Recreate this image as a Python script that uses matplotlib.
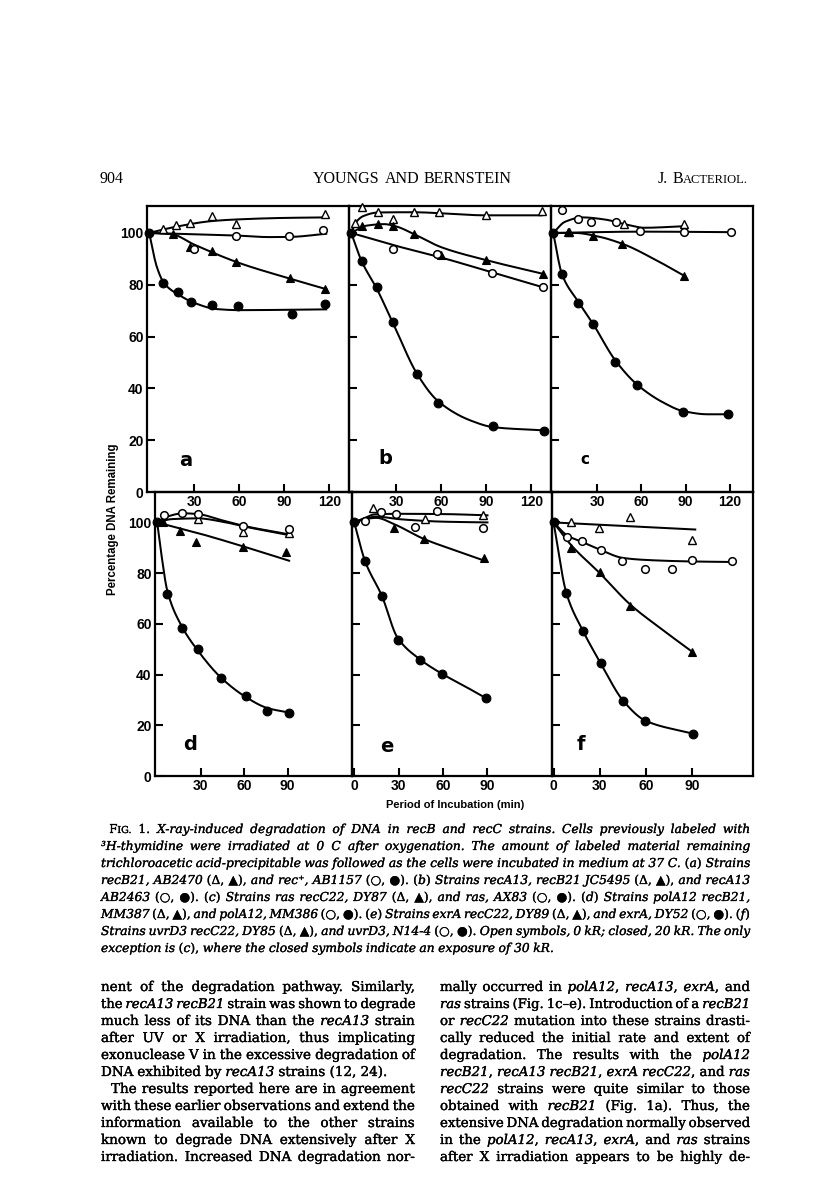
import numpy as np
import matplotlib.pyplot as plt
import matplotlib.patheffects as pe

# ---- data: (minutes, percent remaining) ----
# panel a
a_ot = ([9, 18, 27, 42, 58, 117], [101.6, 103.2, 103.9, 106.7, 103.4, 107.4])
a_ot_fit = ([0, 17, 42, 58, 90, 118], [100, 102.3, 104.6, 105.2, 105.8, 106])
a_ct = ([16, 27, 42, 58, 94, 117], [99.6, 94.4, 93.1, 88.6, 82.5, 78.5])
a_ct_fit = ([0, 15, 30, 60, 90, 118], [100, 99.5, 95.5, 88.4, 83, 78.3])
a_oc = ([30, 58, 93, 116], [93.8, 99, 98.9, 101.3])
a_oc_fit = ([0, 30, 58, 80, 95, 118], [100, 99.5, 99, 98.4, 98.5, 99.7])
a_cc = ([0, 9, 19, 28, 42, 59, 95, 117], [100, 80.5, 77.2, 73.5, 72.1, 71.8, 68.7, 72.7])
a_cc_fit = ([0, 5, 10, 20, 30, 45, 60, 118], [100, 87, 80.5, 76, 73, 70.6, 70.2, 70.5])

# panel b
b_ot = ([2.4, 7, 17.6, 27.6, 41.8, 58.7, 90, 127], [104, 110, 108.1, 105.5, 107.9, 107.9, 107.1, 108.5])
b_ot_fit = ([0, 3, 8, 18, 40, 90, 127], [100, 104, 106.5, 107.9, 108, 106.8, 106.8])
b_ct = ([7, 17.6, 27.6, 41.8, 60, 90, 127.6], [102.6, 103.4, 102.6, 99.4, 91.3, 89.4, 84.2])
b_ct_fit = ([0, 10, 22, 30, 42, 60, 90, 128], [100, 102.8, 103.4, 102.5, 99.5, 94.5, 89.5, 84.2])
b_oc = ([27.6, 57, 94, 127.6], [93.9, 92, 84.5, 79])
b_oc_fit = ([0, 30, 60, 95, 128], [100, 95, 90.5, 84.6, 79])
b_cc = ([0, 7, 17, 27.6, 43.6, 58, 94.7, 128.4], [100, 89, 79, 65.7, 45.4, 34.4, 25.4, 23.7])
b_cc_fit = ([0, 7, 17, 28, 44, 58, 80, 95, 128], [100, 89, 78.5, 65, 45.5, 35, 27.5, 25, 23.8])

# panel c
c_ot = ([11, 48, 89], [100.3, 103.3, 103.4])
c_ot_fit = ([0, 8, 20, 35, 50, 62, 89], [100, 104.3, 106, 105.2, 103.2, 102, 102.6])
c_ct = ([10, 27, 47, 89], [100.3, 99, 95.7, 83.4])
c_ct_fit = ([0, 15, 30, 48, 70, 89], [100, 100, 98.7, 95.6, 89.5, 83.5])
c_oc = ([6.3, 17, 26, 42.4, 59, 89, 121], [108.7, 105.4, 104.4, 104.4, 100.9, 100.5, 100.3])
c_oc_fit = ([0, 60, 121], [100, 100.5, 100.3])
c_cc = ([0, 6, 17, 27, 42, 57, 88, 119], [100, 84.1, 73.1, 65, 50.2, 41.4, 31, 30])
c_cc_fit = ([0, 6, 17, 27, 42, 57, 75, 88, 105, 119], [100, 84, 73.5, 65, 51, 41.5, 34.5, 31.3, 30, 30])

# panel d
d_ot = ([28, 59, 91], [101.3, 96.2, 95.8])
d_ot_fit = ([0, 10, 28, 45, 60, 91], [100, 101.3, 101.6, 100.3, 98.4, 95])
d_ct = ([4, 16, 27, 59, 89], [100, 96.7, 92.1, 90.5, 88.3])
d_ct_fit = ([0, 30, 59, 91], [100, 95.5, 90.6, 84.9])
d_oc = ([5, 17, 28, 59, 91], [103, 103.7, 103.3, 98.4, 97.5])
d_oc_fit = ([0, 8, 18, 28, 45, 60, 91], [100, 102.5, 103.6, 103.3, 100.8, 98.6, 95.3])
d_cc = ([0, 7, 17, 28, 44, 61, 76, 91], [100, 71.7, 58.3, 50.1, 38.7, 31.5, 25.7, 25])
d_cc_fit = ([0, 3, 7, 17, 28, 44, 61, 76, 91], [100, 87, 73, 59, 49.5, 38.8, 31.2, 26.8, 25])

# panel e
e_ot = ([13, 48, 87], [105.7, 101.3, 102.9])
e_ot_fit = ([0, 8, 15, 30, 60, 90], [100, 101.6, 102.3, 101.3, 100.3, 100])
e_ct = ([27, 47, 88], [98, 93.5, 85.8])
e_ct_fit = ([0, 8, 15, 27, 47, 70, 88], [100, 101.4, 101.8, 99.3, 93.5, 88.6, 84.9])
e_oc = ([7, 18, 28, 41, 56, 87], [100.7, 104.2, 103.5, 98.3, 104.6, 97.8])
e_oc_fit = ([0, 6, 14, 30, 60, 90], [100, 101.5, 103.2, 103.4, 103.3, 102.8])
e_cc = ([0, 7.4, 18.7, 29.3, 44.4, 59.3, 89], [100, 84.6, 71.1, 53.7, 45.9, 40.3, 30.7])
e_cc_fit = ([0, 7.4, 18.7, 29.3, 44.4, 59.3, 75, 89], [100, 84.6, 71, 54.5, 46, 40.3, 35.3, 30.7])

# panel f
f_ot = ([11.5, 29.4, 49.5, 89.6], [100, 98, 102.3, 93.1])
f_ot_fit = ([0, 92], [100, 97.2])
f_ct = ([11.5, 30, 49.5, 90], [90, 80.5, 67.2, 49])
f_ct_fit = ([0, 11.5, 30, 50, 70, 90], [100, 91, 80, 67.5, 58, 49])
f_oc = ([8.9, 18.6, 30.5, 44.6, 59.7, 77.1, 90, 116], [94.4, 92.5, 89.2, 84.7, 81.8, 81.5, 85, 84.6])
f_oc_fit = ([0, 9, 19, 30, 45, 60, 90, 116], [100, 94.8, 92.2, 89.3, 86, 85.2, 84.6, 84.4])
f_cc = ([0, 8.4, 19.3, 30.5, 45.2, 59.7, 90.4], [100, 72, 57, 44.6, 29.7, 21.6, 16.7])
f_cc_fit = ([0, 8.4, 19.3, 30.5, 45.2, 59.7, 90.4], [100, 72, 57, 44.6, 29.7, 21.8, 16.7])

y_ticks = [0, 20, 40, 60, 80, 100]
top_xticks = [30, 60, 90, 120]
d_xticks = [30, 60, 90]
ef_xticks = [0, 30, 60, 90]

header_left = "904"
header_mid = "YOUNGS AND BERNSTEIN"
header_right = "J. B~ACTERIOL.~"

# caption: default italic, '*' toggles roman, '~' toggles small caps
caption = [
    "*F~IG.~ 1.* X-ray-induced degradation of DNA in recB and recC strains. Cells previously labeled with",
    "³H-thymidine were irradiated at 0 C after oxygenation. The amount of labeled material remaining",
    "trichloroacetic acid-precipitable was followed as the cells were incubated in medium at 37 C. *(*a*)* Strains",
    "recB21, AB2470 *(Δ, ▲),* and rec⁺, AB1157 *(○, ●).* *(*b*)* Strains recA13, recB21 JC5495 *(Δ, ▲),* and recA13",
    "AB2463 *(○, ●).* *(*c*)* Strains ras recC22, DY87 *(Δ, ▲),* and ras, AX83 *(○, ●).* *(*d*)* Strains polA12 recB21,",
    "MM387 *(Δ, ▲),* and polA12, MM386 *(○, ●).* *(*e*)* Strains exrA recC22, DY89 *(Δ, ▲),* and exrA, DY52 *(○, ●).* *(*f*)*",
    "Strains uvrD3 recC22, DY85 *(Δ, ▲),* and uvrD3, N14-4 *(○, ●).* Open symbols, 0 kR; closed, 20 kR. The only",
    "exception is *(*c*),* where the closed symbols indicate an exposure of 30 kR.",
]

# body text: default roman, '*' toggles italic
left_col = [
    "nent of the degradation pathway. Similarly,",
    "the *recA13 recB21* strain was shown to degrade",
    "much less of its DNA than the *recA13* strain",
    "after UV or X irradiation, thus implicating",
    "exonuclease V in the excessive degradation of",
    "DNA exhibited by *recA13* strains (12, 24).",
    "The results reported here are in agreement",
    "with these earlier observations and extend the",
    "information available to the other strains",
    "known to degrade DNA extensively after X",
    "irradiation. Increased DNA degradation nor-",
]
right_col = [
    "mally occurred in *polA12*, *recA13*, *exrA*, and",
    "*ras* strains (Fig. 1c–e). Introduction of a *recB21*",
    "or *recC22* mutation into these strains drasti-",
    "cally reduced the initial rate and extent of",
    "degradation. The results with the *polA12*",
    "*recB21*, *recA13 recB21*, *exrA recC22*, and *ras*",
    "*recC22* strains were quite similar to those",
    "obtained with *recB21* (Fig. 1a). Thus, the",
    "extensive DNA degradation normally observed",
    "in the *polA12*, *recA13*, *exrA*, and *ras* strains",
    "after X irradiation appears to be highly de-",
]

W, H = 816, 1183
fig = plt.figure(figsize=(W / 100, H / 100), dpi=100)
fig.patch.set_facecolor('white')
R = fig.canvas.get_renderer()

SERIF = ['DejaVu Serif', 'DejaVu Sans']
HEAD = ['Liberation Serif', 'DejaVu Serif']
SANS = ['Liberation Sans', 'DejaVu Sans']


def fx(x):
    return x / W


def fy(y):
    return 1 - y / H


def pchip(x, y, n=200):
    x = np.asarray(x, float)
    y = np.asarray(y, float)
    h = np.diff(x)
    d = np.diff(y) / h
    m = np.zeros_like(y)
    m[0], m[-1] = d[0], d[-1]
    for k in range(1, len(x) - 1):
        if d[k - 1] * d[k] > 0:
            w1 = 2 * h[k] + h[k - 1]
            w2 = h[k] + 2 * h[k - 1]
            m[k] = (w1 + w2) / (w1 / d[k - 1] + w2 / d[k])
    xs = np.linspace(x[0], x[-1], n)
    i = np.clip(np.searchsorted(x, xs) - 1, 0, len(h) - 1)
    s = (xs - x[i]) / h[i]
    ys = ((2 * s**3 - 3 * s**2 + 1) * y[i] + (s**3 - 2 * s**2 + s) * h[i] * m[i]
          + (-2 * s**3 + 3 * s**2) * y[i + 1] + (s**3 - s**2) * h[i] * m[i + 1])
    return xs, ys


def parse(line, it0):
    words, it, sc = [], it0, False
    for raw in line.split(' '):
        segs, buf = [], ''
        for ch in raw:
            if ch in '*~':
                if buf:
                    segs.append((buf, it, sc))
                    buf = ''
                if ch == '*':
                    it = not it
                else:
                    sc = not sc
            else:
                buf += ch
        if buf:
            segs.append((buf, it, sc))
        if segs:
            words.append(segs)
    return words


def seg_w(s, size, it, sc, family):
    t = fig.text(0, 0, s, fontsize=size * (0.78 if sc else 1),
                 style='italic' if it else 'normal', family=family)
    w = t.get_window_extent(renderer=R).width
    t.remove()
    return w


def natural(words, size, family, space):
    ws = [sum(seg_w(s, size, it, sc, family) for s, it, sc in w) for w in words]
    return sum(ws) + space * size * 100 / 72 * (len(words) - 1)


def put_line(words, x0, x1, base, size, family, mode='justify', stroke=0.0):
    segw = [[seg_w(s, size, it, sc, family) for s, it, sc in w] for w in words]
    ws = [sum(v) for v in segw]
    if mode == 'justify' and len(words) > 1:
        gap = (x1 - x0 - sum(ws)) / (len(words) - 1)
        x = x0
    else:
        gap = 0.3 * size * 100 / 72
        tot = sum(ws) + gap * (len(words) - 1)
        x = {'left': x0, 'right': x1 - tot, 'center': (x0 + x1 - tot) / 2}[mode]
    effects = [pe.withStroke(linewidth=stroke, foreground='black')] if stroke else None
    for w, sw, wd in zip(words, segw, ws):
        xx = x
        for (s, it, sc), v in zip(w, sw):
            fig.text(fx(xx), fy(base), s, fontsize=size * (0.78 if sc else 1),
                     style='italic' if it else 'normal', family=family,
                     va='baseline', ha='left', color='black', path_effects=effects)
            xx += v
        x += wd + gap


def block(lines, it0, x0, x1, base0, dy, size0, family, modes, indents, space, pct, stroke):
    parsed = [parse(l, it0) for l in lines]
    ratios = [natural(p, size0, family, space) / (x1 - x0 - ind)
              for p, m, ind in zip(parsed, modes, indents) if m == 'justify']
    size = size0 / np.percentile(ratios, pct)
    for k, (p, m, ind) in enumerate(zip(parsed, modes, indents)):
        s = size
        need = natural(p, s, family, 0.22)
        if need > x1 - x0 - ind:
            s = s * (x1 - x0 - ind) / need
        put_line(p, x0 + ind, x1, base0 + k * dy, s, family, m, stroke)


# ---- header ----
put_line(parse(header_left, False), 100, 200, 183, 11.5, HEAD, 'left')
put_line(parse(header_mid, False), 300, 525, 183, 11.5, HEAD, 'center')
put_line(parse(header_right, False), 600, 748, 183, 11.5, HEAD, 'right')

# ---- panels ----
styles = [
    dict(marker='^', mfc='white', mec='black', ms=5.5, mew=1.0),
    dict(marker='^', mfc='black', mec='black', ms=6, mew=0.8),
    dict(marker='o', mfc='white', mec='black', ms=5.5, mew=1.1),
    dict(marker='o', mfc='black', mec='black', ms=6.3, mew=0.8),
]

panels = [
    dict(box=(147, 206, 349, 492), xlim=(-1.5, 133.2), ylim=(0, 110.4), xt=top_xticks, yl=True,
         letter=('a', 186, 461, 14), data=[(a_ot, a_ot_fit), (a_ct, a_ct_fit), (a_oc, a_oc_fit), (a_cc, a_cc_fit)]),
    dict(box=(349, 206, 551, 492), xlim=(-1.5, 133.2), ylim=(0, 110.4), xt=top_xticks, yl=False,
         letter=('b', 385, 458, 14), data=[(b_ot, b_ot_fit), (b_ct, b_ct_fit), (b_oc, b_oc_fit), (b_cc, b_cc_fit)]),
    dict(box=(551, 206, 753, 492), xlim=(-1.5, 135.9), ylim=(0, 110.4), xt=top_xticks, yl=False,
         letter=('c', 585, 460, 11), data=[(c_ot, c_ot_fit), (c_ct, c_ct_fit), (c_oc, c_oc_fit), (c_cc, c_cc_fit)]),
    dict(box=(155, 492, 352, 776), xlim=(-1.5, 134.4), ylim=(0, 112), xt=d_xticks, yl=True,
         letter=('d', 190, 745, 14), data=[(d_ot, d_ot_fit), (d_ct, d_ct_fit), (d_oc, d_oc_fit), (d_cc, d_cc_fit)]),
    dict(box=(352, 492, 552, 776), xlim=(-1.5, 133.6), ylim=(0, 112), xt=ef_xticks, yl=False,
         letter=('e', 387, 746, 14), data=[(e_ot, e_ot_fit), (e_ct, e_ct_fit), (e_oc, e_oc_fit), (e_cc, e_cc_fit)]),
    dict(box=(552, 492, 753, 776), xlim=(-1, 129.5), ylim=(0, 112), xt=ef_xticks, yl=False,
         letter=('f', 581, 745, 14), data=[(f_ot, f_ot_fit), (f_ct, f_ct_fit), (f_oc, f_oc_fit), (f_cc, f_cc_fit)]),
]

for p in panels:
    l, t, r, b = p['box']
    ax = fig.add_axes([fx(l), fy(b), (r - l) / W, (b - t) / H])
    ax.set_facecolor('none')
    ax.set_xlim(p['xlim'])
    ax.set_ylim(p['ylim'])
    for sp in ax.spines.values():
        sp.set_linewidth(1.6)
    ax.set_xticks(p['xt'])
    ax.set_yticks(y_ticks)
    ax.tick_params(direction='in', length=6, width=1.5, pad=2.5, labelsize=10)
    if not p['yl']:
        ax.set_yticklabels([])
    for lab in ax.get_xticklabels() + ax.get_yticklabels():
        lab.set_fontweight('bold')
        lab.set_family(SANS)
    for (mk, fit), st in zip(p['data'], styles):
        xs, ys = pchip(*fit)
        ax.plot(xs, ys, color='black', lw=1.45)
        ax.plot(mk[0], mk[1], ls='none', clip_on=False, zorder=3, **st)
    name, lx, ly, ls = p['letter']
    fig.text(fx(lx), fy(ly), name, fontsize=ls, fontweight='bold', family=['DejaVu Sans'],
             ha='center', va='center')

fig.text(fx(113), fy(519), 'Percentage DNA Remaining', rotation=90, fontsize=8.3,
         fontweight='bold', family=SANS, ha='center', va='center')
fig.text(fx(455), fy(805), 'Period of Incubation (min)', fontsize=8,
         fontweight='bold', family=SANS, ha='center', va='center')

# ---- caption ----
cap_modes = ['justify'] * 7 + ['left']
cap_ind = [8] + [0] * 7
block(caption, True, 101, 750, 833, 17, 9, SERIF, cap_modes, cap_ind, 0.25, 85, 0.2)

# ---- body columns ----
left_modes = ['justify'] * 5 + ['left'] + ['justify'] * 5
left_ind = [0] * 6 + [10] + [0] * 4
block(left_col, False, 101, 415, 991, 17, 10, SERIF, left_modes, left_ind, 0.25, 85, 0.25)
block(right_col, False, 440, 750, 991, 17, 10, SERIF, ['justify'] * 11, [0] * 11, 0.25, 85, 0.25)

fig.savefig('out.png', dpi=100)
